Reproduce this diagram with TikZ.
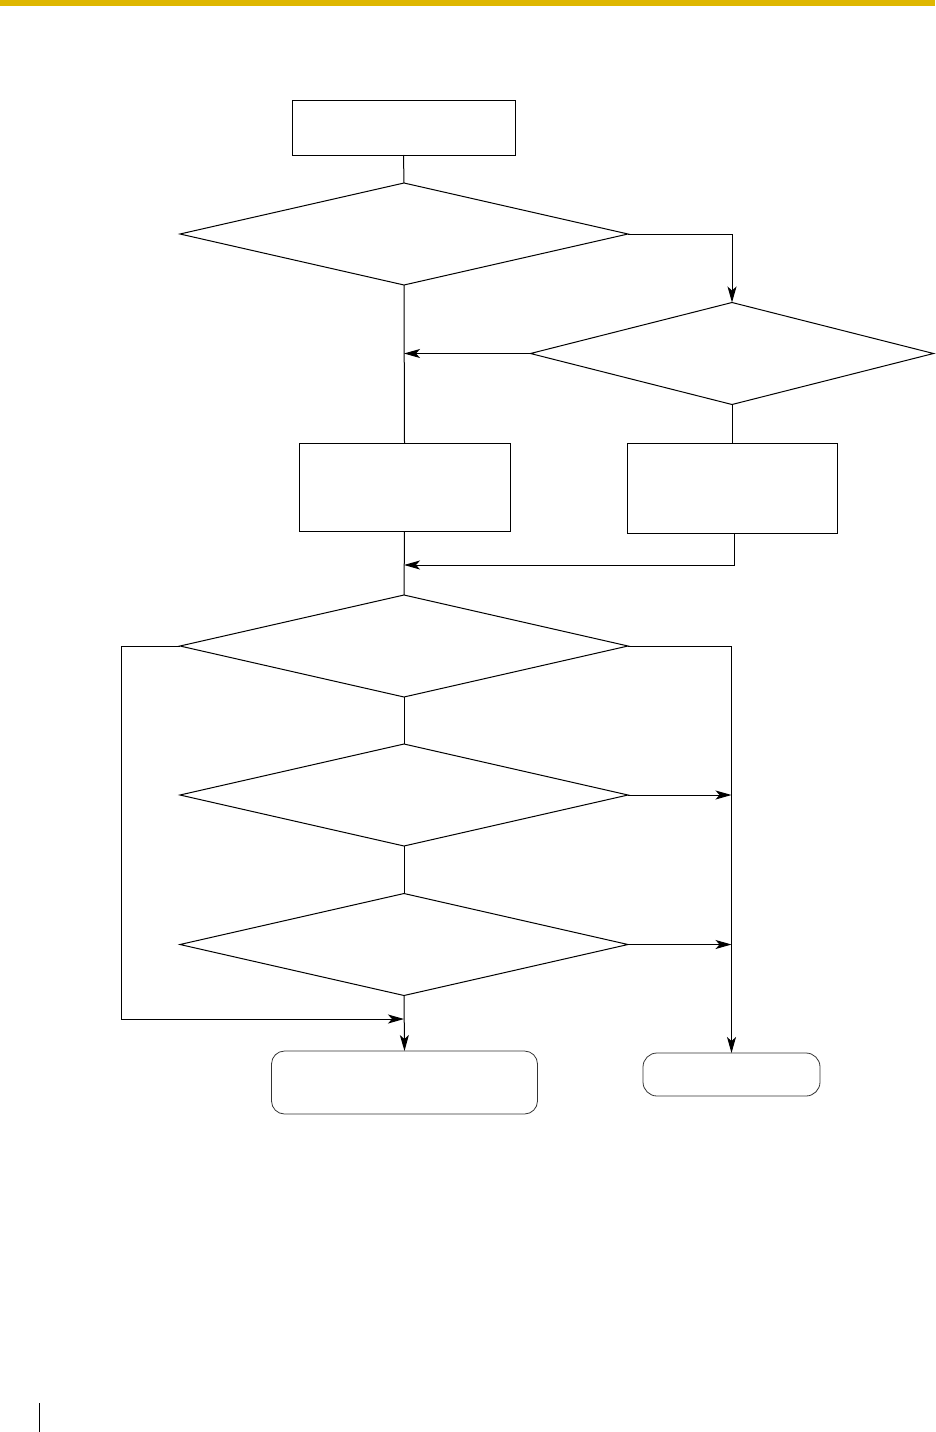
\documentclass[tikz,border=0pt]{standalone}
\usetikzlibrary{shapes.geometric,arrows.meta}
\definecolor{bandyellow}{HTML}{DFB700}
\begin{document}
\begin{tikzpicture}[x=1pt,y=-1pt,
  line width=1pt,
  dia/.style={draw, diamond, inner sep=0pt, outer sep=0pt, minimum width=448pt, minimum height=102pt},
  box/.style={draw, rectangle, inner sep=0pt, outer sep=0pt},
  rbox/.style={draw=black!80, rectangle, rounded corners=13pt, inner sep=0pt, outer sep=0pt, line width=0.8pt},
  link/.style={draw},
  arr/.style={draw, -{Stealth[length=16pt,width=9pt,inset=4pt]}}
]
\useasboundingbox (0,0) rectangle (935,1432);
\fill[bandyellow] (0,0) rectangle (935,5.7);
\draw[line width=1.3pt] (39.5,1403) -- (39.5,1432);

\node[box, minimum width=223pt, minimum height=55pt] (b1) at (403.5,127.5) {};
\node[dia] (d1) at (404,234) {};
\node[dia, minimum width=403pt] (d2) at (732,353.5) {};
\node[box, minimum width=211pt, minimum height=88pt] (b2) at (404.5,487) {};
\node[box, minimum width=210pt, minimum height=90pt] (b3) at (732,488) {};
\node[dia] (d3) at (404,646) {};
\node[dia] (d4) at (404,795) {};
\node[dia] (d5) at (404,944.5) {};
\node[rbox, minimum width=266pt, minimum height=63pt] (b4) at (404.5,1082.5) {};
\node[rbox, minimum width=177pt, minimum height=43pt, rounded corners=14pt] (b5) at (731.5,1074.5) {};

\coordinate (j1) at (404,353.5);
\coordinate (j2) at (404,565);
\coordinate (j3) at (404,1019);

\draw[link] (b1.south) -- (d1.north);
\draw[arr] (d1.east) -| (d2.north);
\draw[arr] (d2.west) -- (j1);
\draw[link] (d1.south) -- (b2.north);
\draw[link] (d2.south) -- (b3.north);
\draw[arr] ([xshift=2pt]b3.south) |- (j2);
\draw[link] (b2.south) -- (d3.north);
\draw[arr] (d3.east) -| (b5.north);
\draw[link] (d3.south) -- (d4.north);
\draw[link] (d4.south) -- (d5.north);
\draw[arr] (d4.east) -- (d4.east -| b5.north);
\draw[arr] (d5.east) -- (d5.east -| b5.north);
\draw[arr] (d3.west) -- ++(-59,0) |- (j3);
\draw[arr] (d5.south) -- (b4.north);
\end{tikzpicture}
\end{document}
